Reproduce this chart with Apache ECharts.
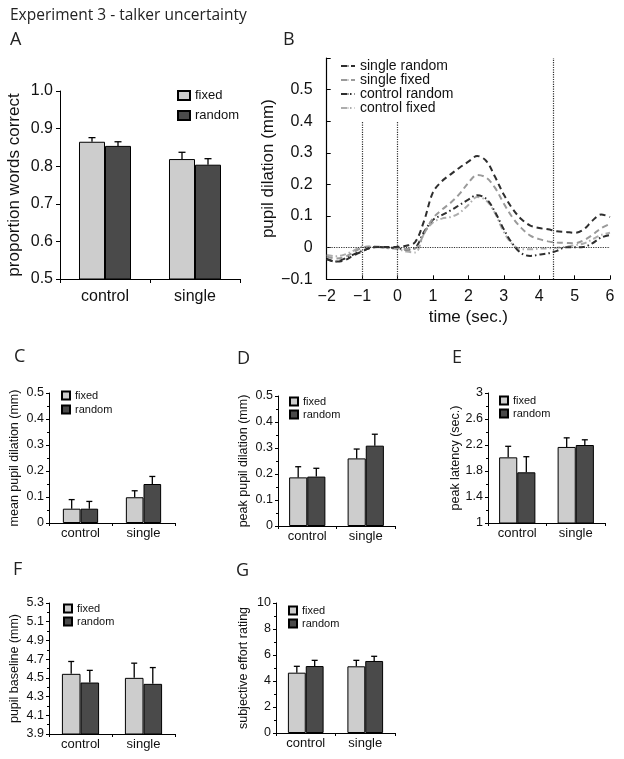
<!DOCTYPE html>
<html><head><meta charset="utf-8">
<script src="https://cdn.jsdelivr.net/npm/echarts@6/dist/echarts.min.js"></script>
<style>html,body{margin:0;padding:0;background:#fff}#c{width:624px;height:759px}</style>
</head><body><div id="c"></div>
<script>
// ---------- data ----------
const categories = ['control', 'single'];
const groups = ['fixed', 'random'];

// Panel A: proportion words correct
const aFixed = [0.865, 0.819];
const aFixedErr = [0.011, 0.018];
const aRandom = [0.854, 0.804];
const aRandomErr = [0.011, 0.016];
const aTicks = [0.5, 0.6, 0.7, 0.8, 0.9, 1.0];

// Panel B: pupil dilation time course
const bTime = [-2, -1.75, -1.5, -1.25, -1, -0.75, -0.5, -0.25, 0, 0.25, 0.5, 0.75, 1, 1.25, 1.5, 1.75, 2, 2.25, 2.5, 2.75, 3, 3.25, 3.5, 3.75, 4, 4.25, 4.5, 4.75, 5, 5.25, 5.5, 5.75, 6];
const bSingleRandom = [-0.037, -0.044, -0.040, -0.025, -0.012, 0.000, 0.002, 0.002, 0.003, 0.006, 0.018, 0.085, 0.175, 0.210, 0.232, 0.253, 0.272, 0.290, 0.275, 0.225, 0.168, 0.123, 0.090, 0.070, 0.062, 0.058, 0.052, 0.050, 0.047, 0.057, 0.085, 0.105, 0.097];
const bSingleFixed = [-0.028, -0.034, -0.030, -0.015, 0.000, 0.004, 0.003, 0.000, -0.002, -0.005, -0.003, 0.045, 0.093, 0.120, 0.142, 0.170, 0.205, 0.230, 0.222, 0.190, 0.140, 0.095, 0.062, 0.038, 0.027, 0.020, 0.016, 0.015, 0.014, 0.023, 0.040, 0.062, 0.075];
const bControlRandom = [-0.035, -0.044, -0.035, -0.022, -0.010, 0.000, 0.002, 0.000, -0.001, -0.006, 0.000, 0.050, 0.088, 0.103, 0.118, 0.135, 0.152, 0.166, 0.155, 0.114, 0.058, 0.012, -0.018, -0.026, -0.022, -0.018, -0.010, 0.001, 0.001, 0.002, 0.014, 0.032, 0.040];
const bControlFixed = [-0.023, -0.027, -0.022, -0.010, 0.003, 0.003, 0.001, -0.002, -0.005, -0.012, -0.015, 0.045, 0.080, 0.092, 0.097, 0.110, 0.135, 0.160, 0.150, 0.110, 0.050, 0.010, -0.005, -0.005, -0.003, -0.002, 0.000, 0.003, 0.008, 0.013, 0.026, 0.040, 0.047];
const bSeriesNames = ['single random', 'single fixed', 'control random', 'control fixed'];
const bXTicks = [-2, -1, 0, 1, 2, 3, 4, 5, 6];
const bYTicks = [-0.1, 0, 0.1, 0.2, 0.3, 0.4, 0.5, 0.6];
const bVerticalMarks = [[-1, -0.1, 0.4], [0, -0.1, 0.4], [4.4, -0.1, 0.6]]; // x, y from, y to
const bZeroLine = [-2, 6, 0];

// Panel C: mean pupil dilation
const cFixed = [0.055, 0.099], cFixedErr = [0.035, 0.025];
const cRandom = [0.055, 0.150], cRandomErr = [0.028, 0.029];
const cTicks = [0, 0.1, 0.2, 0.3, 0.4, 0.5];

// Panel D: peak pupil dilation
const dFixed = [0.187, 0.260], dFixedErr = [0.041, 0.036];
const dRandom = [0.190, 0.309], dRandomErr = [0.032, 0.044];
const dTicks = [0, 0.1, 0.2, 0.3, 0.4, 0.5];

// Panel E: peak latency
const eFixed = [2.01, 2.17], eFixedErr = [0.17, 0.14];
const eRandom = [1.78, 2.20], eRandomErr = [0.24, 0.08];
const eTicks = [1, 1.4, 1.8, 2.2, 2.6, 3];

// Panel F: pupil baseline
const fFixed = [4.543, 4.50], fFixedErr = [0.132, 0.157];
const fRandom = [4.45, 4.436], fRandomErr = [0.13, 0.174];
const fTicks = [3.9, 4.1, 4.3, 4.5, 4.7, 4.9, 5.1, 5.3];

// Panel G: subjective effort rating
const gFixed = [4.64, 5.13], gFixedErr = [0.49, 0.46];
const gRandom = [5.15, 5.54], gRandomErr = [0.44, 0.36];
const gTicks = [0, 2, 4, 6, 8, 10];

// ---------- build ----------
const FONT = 'Liberation Sans';
const TXT = '#111';
const FIXED_COLOR = '#cdcdcd';
const RANDOM_COLOR = '#4a4a4a';

const option = {
  animation: false, backgroundColor: '#fff',
  grid: [], xAxis: [], yAxis: [], series: [], legend: [], graphic: []
};

function errRender(pct, cap) {
  return function (params, api) {
    const cat = api.value(0), top = api.value(1), hi = api.value(2), s = api.value(3);
    const bw = api.size([1, 0])[0] * pct;
    const x = api.coord([cat, top])[0] + (s === 0 ? -0.5 : 0.5) * bw;
    const y0 = api.coord([cat, top])[1];
    const y1 = api.coord([cat, hi])[1];
    return {
      type: 'group', children: [
        { type: 'line', shape: { x1: x, y1: y0, x2: x, y2: y1 }, style: { stroke: '#000', lineWidth: 1.3 } },
        { type: 'line', shape: { x1: x - cap, y1: y1, x2: x + cap, y2: y1 }, style: { stroke: '#000', lineWidth: 1.3 } }
      ]
    };
  };
}

function addBarPanel(p) {
  const gi = option.grid.length;
  option.grid.push({ left: p.left, top: p.top, width: p.width, height: p.height });
  option.xAxis.push({
    type: 'category', gridIndex: gi, data: categories,
    axisLine: { lineStyle: { color: '#000', width: 1 } },
    axisTick: { show: true, length: p.tickLen, lineStyle: { color: '#000' } },
    axisLabel: { color: TXT, fontFamily: FONT, fontSize: p.catFont, margin: p.catMargin },
    splitLine: { show: false }
  });
  const t = p.ticks;
  option.yAxis.push({
    type: 'value', gridIndex: gi, min: t[0], max: t[t.length - 1],
    interval: +(t[1] - t[0]).toFixed(6),
    axisLine: { show: true, lineStyle: { color: '#000', width: 1 } },
    axisTick: { show: true, length: p.tickLen, lineStyle: { color: '#000' } },
    minorTick: { show: !!p.minor, splitNumber: 2, length: 2, lineStyle: { color: '#000' } },
    splitLine: { show: false }, minorSplitLine: { show: false },
    axisLabel: { color: TXT, fontFamily: FONT, fontSize: p.tickFont, margin: p.tickMargin, formatter: p.fmt },
    name: p.yName, nameLocation: 'middle', nameGap: p.nameGap,
    nameTextStyle: { color: TXT, fontFamily: FONT, fontSize: p.nameFont, fontWeight: 'normal' }
  });
  const bwStr = (p.barPct * 100).toFixed(2) + '%';
  option.series.push({
    type: 'bar', name: 'fixed', xAxisIndex: gi, yAxisIndex: gi, data: p.fixed,
    barWidth: bwStr, barGap: '0%',
    itemStyle: { color: FIXED_COLOR, borderColor: '#000', borderWidth: 1 }
  });
  option.series.push({
    type: 'bar', name: 'random', xAxisIndex: gi, yAxisIndex: gi, data: p.random,
    barWidth: bwStr, barGap: '0%',
    itemStyle: { color: RANDOM_COLOR, borderColor: '#000', borderWidth: 1 }
  });
  const errData = [];
  categories.forEach((c, i) => {
    errData.push([i, p.fixed[i], p.fixed[i] + p.fixedErr[i], 0]);
    errData.push([i, p.random[i], p.random[i] + p.randomErr[i], 1]);
  });
  option.series.push({
    type: 'custom', name: 'err', xAxisIndex: gi, yAxisIndex: gi, z: 5, silent: true,
    renderItem: errRender(p.barPct, p.cap), encode: { x: 0, y: [1, 2] }, data: errData
  });
  option.legend.push({
    orient: 'vertical', left: p.legLeft, top: p.legTop, padding: 0, itemGap: p.legGap,
    itemWidth: p.legW, itemHeight: p.legH, icon: 'rect', selectedMode: false, data: groups,
    textStyle: { color: TXT, fontFamily: FONT, fontSize: p.legFont }
  });
}

const fmt1 = v => v.toFixed(1);
const fmt0or1 = v => (v === 0 ? '0' : v.toFixed(1));
const fmtTrim = v => String(+v.toFixed(2));

// Panel A
addBarPanel({
  left: 60, top: 91, width: 180, height: 188, ticks: aTicks,
  fixed: aFixed, fixedErr: aFixedErr, random: aRandom, randomErr: aRandomErr,
  barPct: 0.289, cap: 3.5, tickLen: 4, catFont: 16, catMargin: 10, tickFont: 16, tickMargin: 7,
  fmt: fmt1, yName: 'proportion words correct', nameGap: 37, nameFont: 17,
  legLeft: 177, legTop: 89, legGap: 7, legW: 12, legH: 9, legFont: 13
});
// Panel C
addBarPanel({
  left: 49, top: 393, width: 126, height: 130, ticks: cTicks,
  fixed: cFixed, fixedErr: cFixedErr, random: cRandom, randomErr: cRandomErr,
  barPct: 0.28, cap: 3, tickLen: 3, catFont: 13, catMargin: 4, tickFont: 12.5, tickMargin: 5, minor: true,
  fmt: fmt0or1, yName: 'mean pupil dilation (mm)', nameGap: 28, nameFont: 12.5,
  legLeft: 61, legTop: 390, legGap: 3, legW: 8, legH: 8, legFont: 11
});
// Panel D
addBarPanel({
  left: 278, top: 396, width: 117, height: 130, ticks: dTicks,
  fixed: dFixed, fixedErr: dFixedErr, random: dRandom, randomErr: dRandomErr,
  barPct: 0.31, cap: 3, tickLen: 3, catFont: 13, catMargin: 4, tickFont: 12.5, tickMargin: 5, minor: true,
  fmt: fmt0or1, yName: 'peak pupil dilation (mm)', nameGap: 28, nameFont: 12.5,
  legLeft: 289, legTop: 396, legGap: 2, legW: 8, legH: 8, legFont: 11
});
// Panel E
addBarPanel({
  left: 488, top: 393, width: 117, height: 130, ticks: eTicks,
  fixed: eFixed, fixedErr: eFixedErr, random: eRandom, randomErr: eRandomErr,
  barPct: 0.31, cap: 3, tickLen: 3, catFont: 13, catMargin: 4, tickFont: 12.5, tickMargin: 5, minor: true,
  fmt: fmtTrim, yName: 'peak latency (sec.)', nameGap: 26, nameFont: 12.5,
  legLeft: 499, legTop: 395, legGap: 2, legW: 8, legH: 8, legFont: 11
});
// Panel F
addBarPanel({
  left: 49, top: 603, width: 126, height: 131, ticks: fTicks,
  fixed: fFixed, fixedErr: fFixedErr, random: fRandom, randomErr: fRandomErr,
  barPct: 0.295, cap: 3, tickLen: 3, catFont: 13, catMargin: 4, tickFont: 12.5, tickMargin: 5, minor: true,
  fmt: fmt1, yName: 'pupil baseline (mm)', nameGap: 28, nameFont: 12.5,
  legLeft: 63, legTop: 603, legGap: 2, legW: 8, legH: 8, legFont: 11
});
// Panel G
addBarPanel({
  left: 276, top: 603, width: 119, height: 130, ticks: gTicks,
  fixed: gFixed, fixedErr: gFixedErr, random: gRandom, randomErr: gRandomErr,
  barPct: 0.30, cap: 3, tickLen: 3, catFont: 13, catMargin: 4, tickFont: 12.5, tickMargin: 5, minor: true,
  fmt: v => String(v), yName: 'subjective effort rating', nameGap: 26, nameFont: 12.5,
  legLeft: 288, legTop: 605, legGap: 2, legW: 8, legH: 8, legFont: 11
});

// Panel B
(function () {
  const gi = option.grid.length;
  option.grid.push({ left: 326.7, top: 58, width: 283.3, height: 221.3 });
  const minus = v => (v < 0 ? '\u2212' + (-v) : String(v));
  option.xAxis.push({
    type: 'value', gridIndex: gi, min: bXTicks[0], max: bXTicks[bXTicks.length - 1], interval: bXTicks[1] - bXTicks[0],
    axisLine: { show: true, onZero: false, lineStyle: { color: '#000', width: 1.2 } },
    axisTick: { show: true, inside: true, length: 4, lineStyle: { color: '#000' } },
    axisLabel: { color: TXT, fontFamily: FONT, fontSize: 16, margin: 9, formatter: minus },
    splitLine: { show: false },
    name: 'time (sec.)', nameLocation: 'middle', nameGap: 30,
    nameTextStyle: { color: TXT, fontFamily: FONT, fontSize: 17, fontWeight: 'normal' }
  });
  option.yAxis.push({
    type: 'value', gridIndex: gi, min: bYTicks[0], max: bYTicks[bYTicks.length - 1],
    interval: +(bYTicks[1] - bYTicks[0]).toFixed(6),
    axisLine: { show: true, onZero: false, lineStyle: { color: '#000', width: 1.2 } },
    axisTick: { show: true, inside: true, length: 4, lineStyle: { color: '#000' } },
    axisLabel: {
      color: TXT, fontFamily: FONT, fontSize: 16, margin: 14,
      formatter: v => (Math.abs(v - 0.6) < 1e-9 ? '' : minus(+v.toFixed(1)))
    },
    splitLine: { show: false },
    name: 'pupil dilation (mm)', nameLocation: 'middle', nameGap: 40,
    nameTextStyle: { color: TXT, fontFamily: FONT, fontSize: 17, fontWeight: 'normal' }
  });
  const arrs = [bSingleRandom, bSingleFixed, bControlRandom, bControlFixed];
  const colors = ['#2e2e2e', '#9a9a9a', '#2e2e2e', '#adadad'];
  const dashes = [[6, 4], [6, 4], [6, 3, 1.5, 3], [6, 3, 1.5, 3]];
  const icons = [
    'path://M0,0h5v2h-5z M9,0h5v2h-5z',
    'path://M0,0h5v2h-5z M9,0h5v2h-5z',
    'path://M0,0h1.5v2h-1.5z M3.5,0h4v2h-4z M9.5,0h4.5v2h-4.5z',
    'path://M0,0h1.5v2h-1.5z M3.5,0h4v2h-4z M9.5,0h4.5v2h-4.5z'
  ];
  const refStyle = { type: 'dotted', color: '#333', width: 1.2 };
  const markData = bVerticalMarks.map(m => [{ coord: [m[0], m[1]] }, { coord: [m[0], m[2]] }]);
  markData.push([{ coord: [bZeroLine[0], bZeroLine[2]] }, { coord: [bZeroLine[1], bZeroLine[2]] }]);
  arrs.forEach((arr, k) => {
    const s = {
      type: 'line', name: bSeriesNames[k], xAxisIndex: gi, yAxisIndex: gi,
      data: bTime.map((t, i) => [t, arr[i]]), smooth: 0.35, showSymbol: false, symbol: 'none',
      legendIcon: icons[k],
      lineStyle: { color: colors[k], width: 2, type: dashes[k] }, itemStyle: { color: colors[k] },
      z: 4 - k
    };
    if (k === 0) {
      s.markLine = { silent: true, symbol: ['none', 'none'], label: { show: false }, lineStyle: refStyle, data: markData, animation: false };
    }
    option.series.push(s);
  });
  option.legend.push({
    orient: 'vertical', left: 340, top: 59, padding: 0, itemGap: 0, itemWidth: 14, itemHeight: 2,
    selectedMode: false, data: bSeriesNames,
    textStyle: { color: TXT, fontFamily: FONT, fontSize: 14 }
  });
})();

// Title and panel letters
const LFONT = '"Open Sans", "Liberation Sans", sans-serif';
option.graphic.push({ type: 'text', left: 10, top: 8, style: { text: 'Experiment 3 - talker uncertainty', fill: '#222', font: '15.5px ' + LFONT } });
[['A', 10, 31], ['B', 283, 31], ['C', 14, 348], ['D', 237, 350], ['E', 452, 349], ['F', 13, 561], ['G', 236, 562]].forEach(l => {
  option.graphic.push({ type: 'text', left: l[1], top: l[2], style: { text: l[0], fill: '#222', font: '18px ' + LFONT } });
});

const chart = echarts.init(document.getElementById('c'), null, { renderer: 'canvas' });
chart.setOption(option);
</script>
</body></html>
